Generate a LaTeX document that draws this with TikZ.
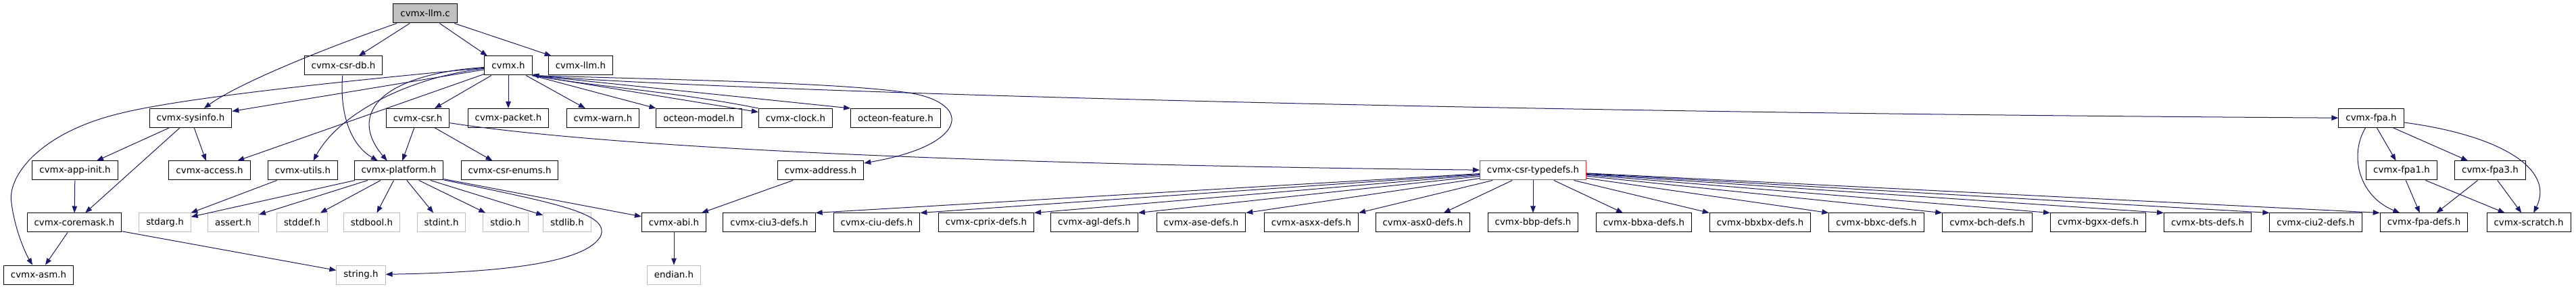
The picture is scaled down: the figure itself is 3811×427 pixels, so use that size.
\documentclass[tikz,border=0pt]{standalone}
\usepackage{fontspec}
\setmainfont{DejaVu Sans}
\usetikzlibrary{arrows.meta}
\definecolor{edgeblue}{HTML}{191970}
\definecolor{sysgray}{HTML}{BFBFBF}
\tikzset{
  hdr/.style={draw=black,fill=white,line width=1pt,minimum height=28pt,
    inner xsep=10.5pt,inner ysep=0pt,font=\fontsize{13.4}{16}\selectfont},
  syshdr/.style={hdr,draw=sysgray},
  srcfile/.style={hdr,fill=sysgray},
  redhdr/.style={hdr,draw=red!85!white},
  dep/.style={edgeblue,line width=1pt,->}
}

\begin{document}
\begin{tikzpicture}[x=1pt,y=-1pt,>={Triangle[length=10pt,width=7.5pt]}]
  \useasboundingbox (0,0) rectangle (3811,427);
  % source file
  \node[srcfile] (llmc) at (629,20) {cvmx-llm.c};
  % first level
  \node[hdr] (csrdb) at (508,97) {cvmx-csr-db.h};
  \node[hdr] (cvmx) at (752,97) {cvmx.h};
  \node[hdr] (llmh) at (859,97) {cvmx-llm.h};
  % second level
  \node[hdr] (sysinfo) at (282,174.5) {cvmx-sysinfo.h};
  \node[hdr] (csr) at (618,174.5) {cvmx-csr.h};
  \node[hdr] (packet) at (752,174.5) {cvmx-packet.h};
  \node[hdr] (warn) at (892,174.5) {cvmx-warn.h};
  \node[hdr] (model) at (1034,174.5) {octeon-model.h};
  \node[hdr] (clock) at (1177,174.5) {cvmx-clock.h};
  \node[hdr] (feature) at (1325,174.5) {octeon-feature.h};
  \node[hdr] (fpa) at (3508,174.5) {cvmx-fpa.h};
  % third level
  \node[hdr] (appinit) at (111,252) {cvmx-app-init.h};
  \node[hdr] (access) at (310,252) {cvmx-access.h};
  \node[hdr] (utils) at (448,252) {cvmx-utils.h};
  \node[hdr] (platform) at (590,252) {cvmx-platform.h};
  \node[hdr] (enums) at (754,252) {cvmx-csr-enums.h};
  \node[hdr] (address) at (1214,252) {cvmx-address.h};
  \node[redhdr] (typedefs) at (2268,252) {cvmx-csr-typedefs.h};
  \node[hdr] (fpa1) at (3553,252) {cvmx-fpa1.h};
  \node[hdr] (fpa3) at (3684,252) {cvmx-fpa3.h};
  % fourth level
  \node[hdr] (coremask) at (110,329) {cvmx-coremask.h};
  \node[syshdr] (stdarg) at (244,329) {stdarg.h};
  \node[syshdr] (assert) at (345,329) {assert.h};
  \node[syshdr] (stddef) at (447,329) {stddef.h};
  \node[syshdr] (stdbool) at (550,329) {stdbool.h};
  \node[syshdr] (stdint) at (653,329) {stdint.h};
  \node[syshdr] (stdio) at (748,329) {stdio.h};
  \node[syshdr] (stdlib) at (839,329) {stdlib.h};
  \node[hdr] (abi) at (997,329) {cvmx-abi.h};
  \node[hdr] (ciu3) at (1138,329) {cvmx-ciu3-defs.h};
  \node[hdr] (ciu) at (1297,329) {cvmx-ciu-defs.h};
  \node[hdr] (cprix) at (1459,329) {cvmx-cprix-defs.h};
  \node[hdr] (agl) at (1619,329) {cvmx-agl-defs.h};
  \node[hdr] (ase) at (1777,329) {cvmx-ase-defs.h};
  \node[hdr] (asxx) at (1940,329) {cvmx-asxx-defs.h};
  \node[hdr] (asx0) at (2105,329) {cvmx-asx0-defs.h};
  \node[hdr] (bbp) at (2268,329) {cvmx-bbp-defs.h};
  \node[hdr] (bbxa) at (2432,329) {cvmx-bbxa-defs.h};
  \node[hdr] (bbxbx) at (2604,329) {cvmx-bbxbx-defs.h};
  \node[hdr] (bbxc) at (2776,329) {cvmx-bbxc-defs.h};
  \node[hdr] (bch) at (2940,329) {cvmx-bch-defs.h};
  \node[hdr] (bgxx) at (3104,329) {cvmx-bgxx-defs.h};
  \node[hdr] (bts) at (3266,329) {cvmx-bts-defs.h};
  \node[hdr] (ciu2) at (3426,329) {cvmx-ciu2-defs.h};
  \node[hdr] (fpadefs) at (3586,329) {cvmx-fpa-defs.h};
  \node[hdr] (scratch) at (3741,329) {cvmx-scratch.h};
  % fifth level
  \node[hdr] (asm) at (57,406) {cvmx-asm.h};
  \node[syshdr] (string) at (534,406) {string.h};
  \node[syshdr] (endian) at (997,406) {endian.h};

  % includes of cvmx-llm.c
  \draw[dep] (llmc) .. controls (470,75) and (350,125) .. (sysinfo);
  \draw[dep] (llmc) -- (csrdb);
  \draw[dep] (llmc) -- (cvmx.155);
  \draw[dep] (llmc) -- (llmh);
  \draw[dep] (csrdb) .. controls (502,170) and (520,215) .. (platform.155);
  % includes of cvmx.h
  \draw[dep] (cvmx) .. controls (400,130) and (250,150) .. (180,167)
    .. controls (60,195) and (10,260) .. (17,300)
    .. controls (22,340) and (38,375) .. (asm);
  \draw[dep] (cvmx) -- (sysinfo);
  \draw[dep] (cvmx) -- (access);
  \draw[dep] (cvmx) .. controls (600,115) and (500,170) .. (utils.43);
  \draw[dep] (cvmx) .. controls (560,110) and (515,170) .. (platform.140);
  \draw[dep] (cvmx) -- (csr);
  \draw[dep] (cvmx) -- (packet);
  \draw[dep] (cvmx) -- (warn);
  \draw[dep] (cvmx.south east) -- (model.north west);
  \draw[dep] (cvmx.south east) -- (clock);
  \draw[dep] (clock.north west) .. controls (1000,135) and (850,125) .. (cvmx.-20);
  \draw[dep] (cvmx.south east) -- (feature.north west);
  \draw[dep] (cvmx.south east) .. controls (1000,118) and (1250,122) .. (1350,138)
    .. controls (1440,155) and (1430,215) .. (address);
  \draw[dep] (cvmx.south east) .. controls (1000,130) and (2000,165) .. (fpa);
  % cvmx-sysinfo.h and below
  \draw[dep] (sysinfo) -- (appinit);
  \draw[dep] (sysinfo) -- (coremask);
  \draw[dep] (sysinfo) -- (access);
  \draw[dep] (appinit) -- (coremask);
  \draw[dep] (coremask) -- (asm);
  \draw[dep] (coremask) -- (string);
  \draw[dep] (utils) -- (stdarg);
  % cvmx-platform.h
  \draw[dep] (platform) -- (stdarg);
  \draw[dep] (platform) -- (assert);
  \draw[dep] (platform) -- (stddef);
  \draw[dep] (platform) -- (stdbool);
  \draw[dep] (platform) -- (stdint);
  \draw[dep] (platform) -- (stdio);
  \draw[dep] (platform) -- (stdlib);
  \draw[dep] (platform) .. controls (820,300) and (905,315) .. (888,350)
    .. controls (860,395) and (700,403) .. (string);
  \draw[dep] (platform) -- (abi);
  % cvmx-csr.h
  \draw[dep] (csr) -- (platform);
  \draw[dep] (csr) -- (enums);
  \draw[dep] (csr) .. controls (950,225) and (1600,245) .. (typedefs);
  \draw[dep] (address) -- (abi);
  \draw[dep] (abi) -- (endian);
  % cvmx-csr-typedefs.h
  \draw[dep] (typedefs) -- (ciu3.north east);
  \draw[dep] (typedefs) -- (ciu.north east);
  \draw[dep] (typedefs) -- (cprix.north east);
  \draw[dep] (typedefs) -- (agl.north east);
  \draw[dep] (typedefs) -- (ase.north east);
  \draw[dep] (typedefs) -- (asxx.north east);
  \draw[dep] (typedefs) -- (asx0);
  \draw[dep] (typedefs) -- (bbp);
  \draw[dep] (typedefs) -- (bbxa);
  \draw[dep] (typedefs) -- (bbxbx.north west);
  \draw[dep] (typedefs) -- (bbxc.north west);
  \draw[dep] (typedefs) -- (bch.north west);
  \draw[dep] (typedefs) -- (bgxx.north west);
  \draw[dep] (typedefs) -- (bts.north west);
  \draw[dep] (typedefs) -- (ciu2.north west);
  \draw[dep] (typedefs) -- (fpadefs.north west);
  % cvmx-fpa.h
  \draw[dep] (fpa) .. controls (3475,230) and (3490,290) .. (fpadefs);
  \draw[dep] (fpa) -- (fpa1);
  \draw[dep] (fpa) -- (fpa3);
  \draw[dep] (fpa) .. controls (3700,200) and (3780,250) .. (scratch);
  \draw[dep] (fpa1) -- (fpadefs);
  \draw[dep] (fpa1) -- (scratch);
  \draw[dep] (fpa3) -- (fpadefs);
  \draw[dep] (fpa3) -- (scratch);
\end{tikzpicture}
\end{document}
